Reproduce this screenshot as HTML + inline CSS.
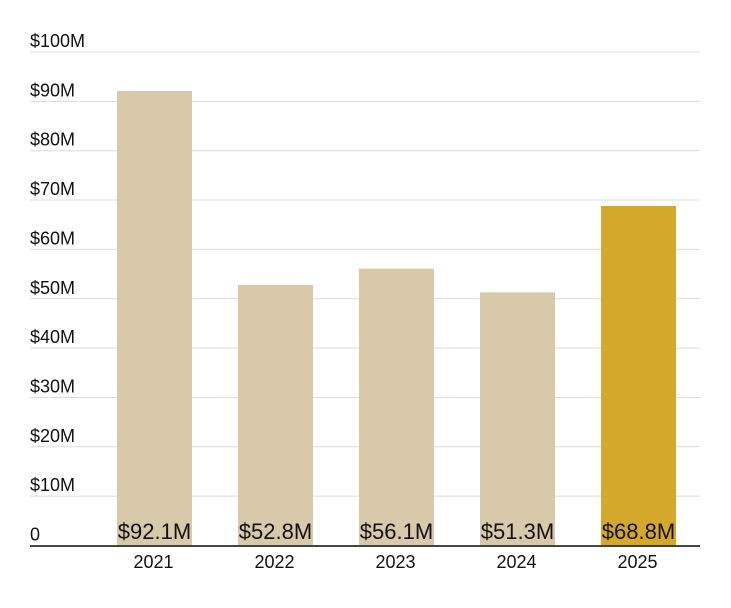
<!DOCTYPE html>
<html><head><meta charset="utf-8"><style>
body{margin:0;background:#fff;font-family:"Liberation Sans",Arial,sans-serif}
svg text{font-family:"Liberation Sans",Arial,sans-serif}
</style></head><body>
<svg id="chart" width="731" height="603" xmlns="http://www.w3.org/2000/svg"></svg>
<script>
const categories=["2021","2022","2023","2024","2025"];
const values=[92.1,52.8,56.1,51.3,68.8];
const valueLabels=["$92.1M","$52.8M","$56.1M","$51.3M","$68.8M"];
const ticks=[0,10,20,30,40,50,60,70,80,90,100];
const tickLabels=["0","$10M","$20M","$30M","$40M","$50M","$60M","$70M","$80M","$90M","$100M"];
const svg=document.getElementById('chart');
const NS="http://www.w3.org/2000/svg";
const y0=545.5,y100=52;
function y(v){return y0-(y0-y100)*v/100;}
function x(i){return 117+121*i;}
const bw=75;
function mk(t,a){const e=document.createElementNS(NS,t);for(const k in a)e.setAttribute(k,a[k]);svg.appendChild(e);return e;}
ticks.forEach((t,i)=>{
  if(t>0){const l=mk('line',{x1:30,x2:700,y1:y(t),y2:y(t),stroke:'#dcdcdc','stroke-width':1});
  
  }
  const tx=mk('text',{x:30,y:y(t)-5,'font-size':18,fill:'#111'});
  tx.textContent=tickLabels[i];
  
  
});
values.forEach((v,i)=>{
  const r=mk('rect',{x:x(i),y:y(v),width:bw,height:y0-y(v),fill:i===4?'#d4a82a':'#d9c9ab'});
  
  
  const vl=mk('text',{x:x(i)+bw/2,y:539,'font-size':22,'text-anchor':'middle',fill:'#111'});
  vl.textContent=valueLabels[i];
  
  
  const cl=mk('text',{x:x(i)+bw/2-1,y:568,'font-size':18,'text-anchor':'middle',fill:'#111'});
  cl.textContent=categories[i];
  
  
});
const ax=mk('line',{x1:30,x2:700,y1:546,y2:546,stroke:'#444','stroke-width':2});


</script>
</body></html>
